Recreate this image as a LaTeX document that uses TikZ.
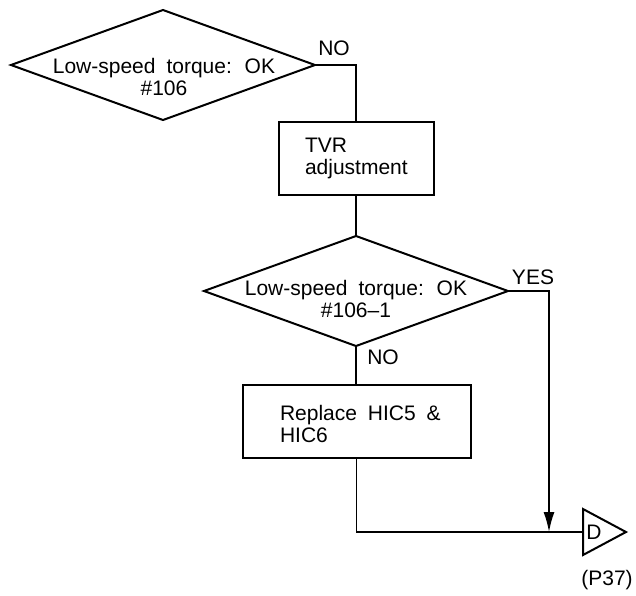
\documentclass[tikz,border=0pt]{standalone}
\usepackage{fontspec}
\setmainfont{Liberation Sans}
\usetikzlibrary{shapes.geometric,arrows.meta}
\tikzset{
  txt/.style={font={\fontsize{21}{22}\selectfont\spaceskip=0.52em\relax}, inner sep=0pt, outer sep=0pt},
  dia/.style={draw, shape=diamond, minimum width=304pt, minimum height=110pt, inner sep=0pt, outer sep=0pt, line width=2pt},
  box/.style={draw, rectangle, inner sep=0pt, outer sep=0pt, line width=2pt, minimum height=73pt},
  conn/.style={line width=1.6pt},
  arr/.style={conn, -{Latex[length=20pt,width=11pt]}},
}
\begin{document}
\begin{tikzpicture}[x=1pt,y=-1pt]
\useasboundingbox (0,0) rectangle (636,595);
% decisions
\node[dia] (d1) at (163,65) {};
\node[txt, align=center] (t1) at (164,77) {Low-speed torque: OK\\\#106};
\node[dia] (d2) at (356,291) {};
\node[txt, align=center] (t2) at (356,299) {Low-speed torque: OK\\\#106--1};
% boxes
\node[box, minimum width=155pt] (b1) at (356,158.5) {};
\node[txt, align=left, anchor=west] (bt1) at (305,158) {TVR\\adjustment};
\node[box, minimum width=228pt] (b2) at (356.5,421.5) {};
\node[txt, align=left, anchor=west] (bt2) at (280,424) {Replace HIC5 \&\\HIC6};
% off-page connector
\coordinate (tl) at (583,532);
\coordinate (tt) at (583,509);
\coordinate (tb) at (583,555);
\coordinate (tp) at (626,532);
\draw[line width=2pt, line join=miter] (tt) -- (tp) -- (tb) -- cycle;
\node[txt] (dl) at (594,532) {D};
\node[txt] (pg) at (607,580) {(P37)};
\coordinate (j) at (549,532);
% labels
\node[txt] (no1) at (334,48) {NO};
\node[txt] (yes) at (533,277) {YES};
\node[txt] (no2) at (383,357) {NO};
% connectors
\draw[conn] (d1.east) -| (b1.north);
\draw[conn] (b1.south) -- (d2.north);
\draw[conn] (d2.south) -- (d2.south |- b2.north);
\draw[arr] (d2.east) -| (j);
\draw[conn] (b2.south) |- (tl);
\end{tikzpicture}
\end{document}
